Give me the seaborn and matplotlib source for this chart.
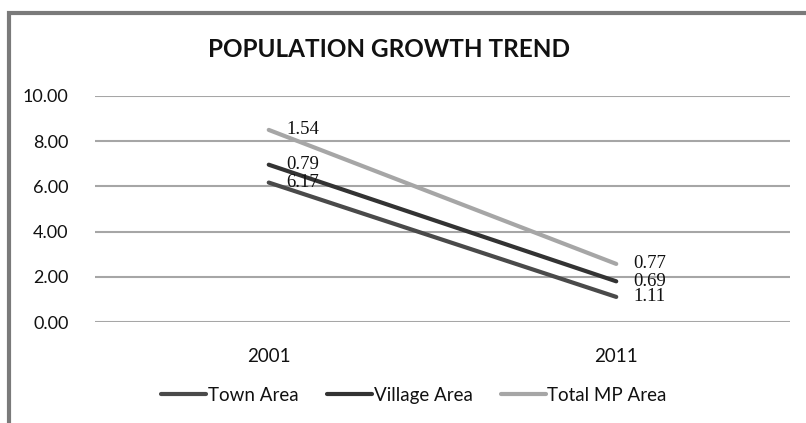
import matplotlib
matplotlib.use("Agg")
import matplotlib.pyplot as plt
from matplotlib.patches import Rectangle
import numpy as np
import pandas as pd
import seaborn as sns

years = ["2001", "2011"]
series = ["Town Area", "Village Area", "Total MP Area"]
town = [6.17, 1.11]
village = [0.79, 0.69]
total_mp = [1.54, 0.77]
colors = ["#4a4a4a", "#333333", "#a6a6a6"]

sns.set_theme(style="white")
plt.rcParams["font.family"] = ["Lato", "DejaVu Sans"]

# stacked line chart, like the original spreadsheet chart
raw = np.array([town, village, total_mp])
stacked = np.cumsum(raw, axis=0)
rows = []
for i, name in enumerate(series):
    for j, yr in enumerate(years):
        rows.append({"year": j, "series": name, "value": stacked[i, j], "label": raw[i, j]})
df = pd.DataFrame(rows)

fig = plt.figure(figsize=(8.06, 4.23), dpi=100)
fig.patches.append(Rectangle((8.5 / 806, -0.1), 1.1, 1.0 - 13.5 / 423 + 0.1,
                             transform=fig.transFigure, fill=False,
                             edgecolor="#7a7a7a", linewidth=3))
ax = fig.add_axes([95 / 806, 1 - 322 / 423, 695 / 806, 226 / 423])

sns.lineplot(data=df, x="year", y="value", hue="series", palette=colors,
             hue_order=series, linewidth=3, ax=ax, legend=False)

for _, r in df.iterrows():
    ax.text(r["year"] + 0.05, r["value"], f"{r['label']:.2f}", ha="left", va="center",
            fontsize=13.5, family="Liberation Serif", color="#111111")

ax.set_xlim(-0.5, 1.5)
ax.set_ylim(0, 10)
ax.set_yticks(np.arange(0, 10.01, 2))
ax.set_yticklabels([f"{v:.2f}" for v in np.arange(0, 10.01, 2)], fontsize=13, color="#111111")
ax.set_xticks(range(len(years)))
ax.set_xticklabels(years, fontsize=13.5, color="#111111")
ax.tick_params(axis="y", pad=19, length=0)
ax.tick_params(axis="x", pad=19, length=0)
ax.grid(axis="y", color="#a6a6a6", linewidth=1.5)
ax.set_axisbelow(True)
for s in ax.spines.values():
    s.set_visible(False)
ax.set_xlabel("")
ax.set_ylabel("")

fig.text(389 / 806, 1 - 49 / 423, "POPULATION GROWTH TREND", ha="center", va="center",
         fontsize=17.5, fontweight="bold", color="#111111")

handles = [plt.Line2D([], [], color=c, linewidth=3) for c in colors]
fig.legend(handles, series, loc="center", bbox_to_anchor=(414 / 806, 1 - 395 / 423),
           ncol=3, frameon=False, fontsize=13.5, handlelength=2.4, handletextpad=0.1,
           columnspacing=1.5, labelcolor="#111111")

fig.savefig("out.png", dpi=100)
